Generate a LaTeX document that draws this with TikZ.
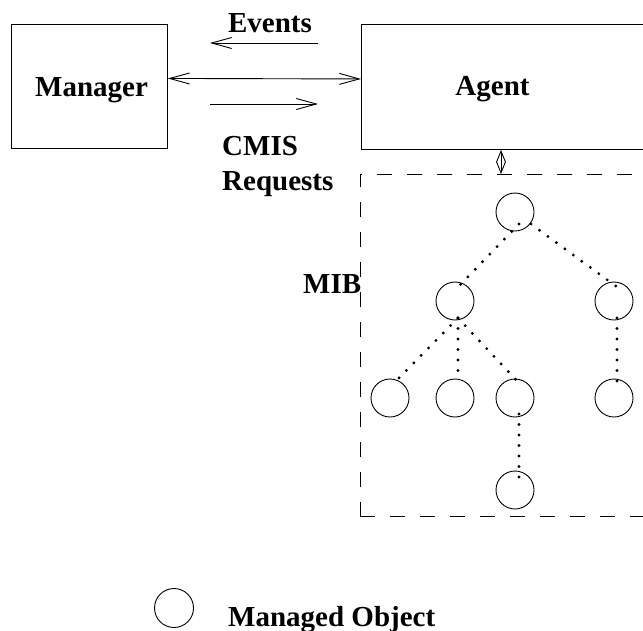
\documentclass[tikz,border=0pt]{standalone}
\usepackage{fontspec}
\setmainfont{Liberation Serif}
\usetikzlibrary{arrows.meta,calc}

\tikzset{
  box/.style={draw, line width=0.9pt, rectangle, inner sep=0pt, anchor=north west},
  lbl/.style={font=\fontsize{29}{35}\selectfont\bfseries, inner sep=0pt},
  mo/.style={draw, circle, line width=0.9pt, minimum size=38pt, inner sep=0pt},
  link/.style={line width=0.9pt},
  bigtip/.style={-{Straight Barb[length=20pt,width=11pt]}},
  smalltip/.style={{Straight Barb[length=11pt,width=9pt]}-{Straight Barb[length=11pt,width=9pt]}},
  dots/.style={line width=3.2pt, line cap=round, dash pattern=on 0pt off 10.5pt},
  mibline/.style={draw, line width=0.9pt, dash pattern=on 15pt off 15pt, rectangle, inner sep=0pt, anchor=north west},
}

\begin{document}
\begin{tikzpicture}[x=1pt, y=-1pt]
\useasboundingbox (0,0) rectangle (643,630);
\clip (0,0) rectangle (643,630);

% Manager and agent boxes
\node[box, minimum width=156pt, minimum height=124pt] (manager) at (11,24) {};
\node[box, minimum width=340pt, minimum height=125pt] (agent) at (361,24) {};
\node[lbl, anchor=base] (managertxt) at (91.5,96) {Manager};
\node[lbl, anchor=base] (agenttxt) at (492.5,95) {Agent};

% Protocol arrows
\coordinate (evR) at (318,43);
\coordinate (evL) at (210,43);
\coordinate (rqL) at (210,104);
\coordinate (rqR) at (318,104);
\draw[link, bigtip] (evR) -- (evL);
\draw[link, bigtip] (rqL) -- (rqR);
\draw[link, {Straight Barb[length=20pt,width=11pt]}-{Straight Barb[length=20pt,width=11pt]}]
  ([yshift=8pt]manager.east) -- ([yshift=8pt]agent.west);
\node[lbl, anchor=base] (events) at (270,32) {Events};
\node[lbl, anchor=base west] (cmis) at (222,155) {CMIS};
\node[lbl, anchor=base west] (requests) at (222,190) {Requests};

% MIB region
\node[mibline, minimum width=340pt, minimum height=342pt] (mib) at (360,174) {};
\node[lbl, anchor=base west] (mibtxt) at (303,293) {MIB};
\coordinate (linkx) at (501,0);
\draw[link, smalltip] (agent.south -| linkx) -- (mib.north -| linkx);

% Containment tree of managed objects
\node[mo] (r)  at (515,212) {};
\node[mo] (a)  at (455,301) {};
\node[mo] (b)  at (614,301) {};
\node[mo] (a1) at (390,398) {};
\node[mo] (a2) at (455,398) {};
\node[mo] (a3) at (515,398) {};
\node[mo] (b1) at (614,398) {};
\node[mo] (a3a) at (515,490) {};

\draw[dots] ($(r)+(4,12)$) -- ($(a)+(3,-14)$);
\draw[dots] ($(r)+(16,12)$) -- ($(b)+(3,-14)$);
\draw[dots] ($(a)+(3,17)$) -- ($(a1)+(4,-15)$);
\draw[dots] ($(a)+(3,17)$) -- ($(a2)+(3,-26)$);
\draw[dots] ($(a)+(3,17)$) -- ($(a3)+(4,-15)$);
\draw[dots] ($(b)+(3,17)$) -- ($(b1)+(3,-15)$);
\draw[dots] ($(a3)+(4,16)$) -- ($(a3a)+(4,-13)$);

% Legend
\node[mo, minimum size=39pt] (legend) at (174,608) {};
\node[lbl, anchor=base west] (legendtxt) at (228,626) {Managed Object};
\end{tikzpicture}
\end{document}
